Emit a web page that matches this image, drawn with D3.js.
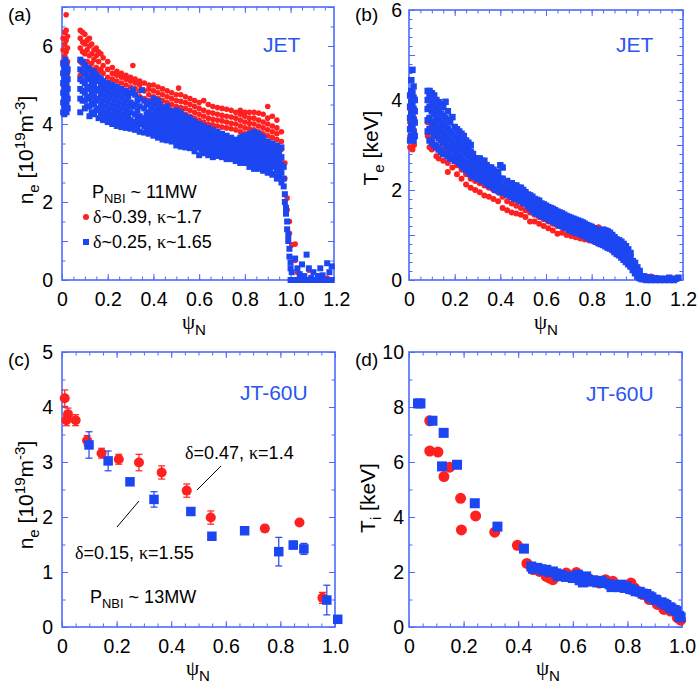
<!DOCTYPE html>
<html>
<head>
<meta charset="utf-8">
<script src="https://cdn.jsdelivr.net/npm/d3@7"></script>
<style>
  body { margin: 0; background: #fff; }
  svg { font-family: "Liberation Sans", Arial, sans-serif; }
</style>
</head>
<body>
<svg id="chart" width="698" height="688"></svg>
<script>
// ---- data ----
// (a) JET n_e: columns of [psi, [n_e values]]
const aRedCols = [
  [0.005,[5.0,5.3,5.6,5.9,6.2]],[0.012,[5.1,5.45,5.75,6.05,6.35]],[0.018,[5.2,5.5,5.85,6.15,6.4,6.8]],
  [0.024,[5.3,5.6,5.95,6.25]],[0.08,[5.25,5.6,5.95,6.2,6.4]],[0.09,[5.3,5.55,5.85,6.1,6.35]],
  [0.10,[5.25,5.5,5.8,6.05,6.3]],[0.11,[5.3,5.6,5.9,6.15]],[0.12,[5.2,5.45,5.75,6.0,6.2]],
  [0.13,[5.25,5.55,5.8,6.05]],[0.14,[5.15,5.4,5.65,5.9]],[0.15,[5.2,5.45,5.75,5.95]],
  [0.16,[5.1,5.35,5.6,5.85]],[0.17,[5.15,5.4,5.8]],[0.18,[5.05,5.3,5.5,5.7]],
  [0.20,[5.0,5.2,5.4,5.6]],[0.22,[4.95,5.15,5.3,5.45]],[0.24,[4.9,5.1,5.25,5.35]],
  [0.26,[4.85,5.05,5.2,5.3]],[0.28,[4.8,5.0,5.15,5.25]],[0.30,[4.8,4.95,5.1,5.2]],[0.31,[5.5]],
  [0.32,[4.75,4.9,5.05,5.15]],[0.34,[4.7,4.85,5.0,5.1]],[0.36,[4.65,4.85,5.05]],
  [0.38,[4.6,4.75,4.9,5.0]],[0.40,[4.55,4.7,4.85,5.0]],[0.42,[4.5,4.65,4.8,4.95]],
  [0.44,[4.45,4.6,4.75,4.9]],[0.46,[4.4,4.55,4.7,4.85]],[0.48,[4.35,4.5,4.65,4.8]],
  [0.50,[4.3,4.45,4.6,4.75]],[0.51,[4.92]],[0.52,[4.28,4.42,4.58,4.75]],[0.54,[4.25,4.4,4.55,4.7]],
  [0.56,[4.2,4.35,4.5,4.65]],[0.58,[4.15,4.3,4.45,4.6]],[0.60,[4.1,4.25,4.4,4.55]],
  [0.62,[4.05,4.2,4.35,4.6]],[0.64,[4.0,4.15,4.3,4.5]],[0.66,[3.98,4.12,4.28,4.45]],
  [0.68,[3.95,4.1,4.25,4.42]],[0.70,[3.92,4.08,4.22,4.4]],[0.72,[3.9,4.05,4.2,4.38]],
  [0.74,[3.88,4.02,4.18,4.35]],[0.76,[3.85,4.0,4.15,4.3]],[0.78,[3.8,3.95,4.1,4.25,4.35]],
  [0.80,[3.75,3.9,4.05,4.2,4.3]],[0.82,[3.7,3.88,4.02,4.15,4.3]],[0.84,[3.65,3.85,4.0,4.15,4.3]],
  [0.86,[3.6,3.8,3.95,4.1,4.28]],[0.88,[3.55,3.75,3.9,4.05,4.25]],[0.90,[3.5,3.7,3.85,4.0,4.15,4.45]],
  [0.92,[3.45,3.65,3.8,3.95,4.2]],[0.94,[3.4,3.6,3.75,3.9,4.1]],[0.96,[3.1,3.35,3.55,3.8]],
  [0.975,[2.6,3.0]],[0.985,[1.8,2.1]],[0.995,[1.2,1.5]],[1.005,[0.9]],[1.02,[0.5,0.92]],
  [1.03,[0.2]],[1.05,[0.1]],[1.08,[0.25]],[1.12,[0.1]],[1.16,[0.05]]
];
const aBlueCols = [
  [0.005,[4.3,4.55,4.8,5.05,5.3,5.55]],[0.01,[4.25,4.45,4.7,4.95,5.2,5.45]],
  [0.015,[4.35,4.6,4.85,5.1,5.35,5.65]],[0.02,[4.3,4.5,4.75,5.0,5.25,5.5]],[0.025,[4.4,4.65,4.9,5.15,5.4]],
  [0.08,[4.3,4.65,4.9,5.15,5.4,5.65]],[0.09,[4.6,4.85,5.1,5.35,5.6]],[0.10,[4.4,4.6,4.8,5.05,5.3,5.5]],
  [0.11,[4.45,4.7,4.95,5.2,5.45]],[0.12,[4.2,4.45,4.65,4.9,5.15,5.4]],[0.13,[4.3,4.55,4.8,5.05,5.3]],
  [0.14,[4.25,4.5,4.7,4.95,5.15,5.35]],[0.15,[4.35,4.6,4.85,5.1,5.25]],[0.16,[4.15,4.4,4.65,4.9,5.2]],
  [0.17,[4.25,4.5,4.75,5.0,5.15]],[0.18,[4.1,4.35,4.6,4.85,5.1]],[0.19,[4.2,4.45,4.7,4.95]],
  [0.20,[4.05,4.3,4.55,4.8,5.05]],[0.21,[4.15,4.4,4.65,4.9]],[0.22,[4.0,4.25,4.5,4.75,5.0]],
  [0.23,[4.1,4.35,4.6,4.85]],[0.24,[3.95,4.2,4.45,4.7,4.95]],[0.25,[4.05,4.3,4.55,4.8]],
  [0.26,[3.92,4.15,4.4,4.65,4.9]],[0.27,[4.0,4.25,4.5,4.75]],
  [0.28,[3.9,4.1,4.35,4.6,4.85]],[0.29,[3.98,4.2,4.45,4.7]],[0.30,[3.88,4.1,4.3,4.55,4.8]],[0.31,[4.0,4.45,4.88]],
  [0.32,[3.85,4.05,4.25,4.5,4.75]],[0.33,[3.9,4.15,4.35,4.6]],[0.34,[3.8,4.0,4.2,4.45,4.65]],[0.35,[4.1,4.87]],
  [0.36,[3.78,3.95,4.15,4.4,4.6]],[0.37,[3.85,4.05,4.25,4.5]],[0.38,[3.75,3.92,4.1,4.3,4.55]],
  [0.39,[3.82,4.0,4.2,4.4]],[0.40,[3.7,3.9,4.05,4.25,4.5,4.65]],[0.41,[3.8,3.98,4.15,4.35,4.55]],
  [0.42,[3.65,3.85,4.0,4.2,4.4,4.6]],[0.43,[3.72,3.9,4.1,4.3,4.5]],[0.44,[3.6,3.8,3.95,4.15,4.35]],
  [0.45,[3.68,3.88,4.05,4.22,4.4]],[0.46,[3.58,3.75,3.92,4.1,4.3,4.45]],[0.47,[3.65,3.82,4.0,4.18,4.35]],
  [0.48,[3.55,3.72,3.9,4.05,4.25]],[0.49,[3.6,3.78,3.95,4.12,4.3]],[0.50,[3.45,3.65,3.85,4.0,4.2,4.35]],
  [0.51,[3.55,3.72,3.9,4.08,4.25]],[0.52,[3.42,3.6,3.8,3.95,4.15,4.3]],[0.53,[3.5,3.68,3.85,4.02,4.2]],
  [0.54,[3.4,3.6,3.75,3.9,4.05,4.2]],[0.55,[3.48,3.65,3.82,3.98,4.12]],[0.56,[3.38,3.55,3.7,3.85,4.0,4.15]],
  [0.57,[3.45,3.62,3.78,3.92,4.08]],[0.58,[3.3,3.5,3.65,3.8,3.95,4.05]],[0.59,[3.4,3.55,3.72,3.88,4.0]],
  [0.60,[3.2,3.45,3.6,3.75,3.9,4.0]],[0.61,[3.35,3.52,3.68,3.8,3.95]],[0.62,[3.25,3.42,3.58,3.72,3.85,3.95]],
  [0.63,[3.32,3.48,3.62,3.78,3.88]],[0.64,[3.2,3.4,3.55,3.7,3.82,3.9]],[0.65,[3.28,3.42,3.58,3.72,3.8]],
  [0.66,[3.15,3.35,3.5,3.65,3.85]],[0.67,[3.25,3.42,3.55,3.7]],[0.68,[3.18,3.35,3.5,3.62,3.8]],
  [0.69,[3.22,3.4,3.55,3.68]],[0.70,[3.15,3.3,3.45,3.6,3.75]],[0.71,[3.2,3.35,3.5,3.65]],
  [0.72,[3.1,3.28,3.42,3.55,3.7]],[0.73,[3.18,3.32,3.48,3.6]],[0.74,[3.1,3.25,3.4,3.52,3.65]],
  [0.75,[3.15,3.3,3.45,3.58]],[0.76,[3.05,3.22,3.38,3.5,3.6]],[0.77,[3.1,3.28,3.42,3.55]],
  [0.78,[3.0,3.2,3.35,3.5,3.65]],[0.79,[3.08,3.25,3.4,3.55,3.68]],[0.80,[3.0,3.15,3.3,3.45,3.6,3.7]],
  [0.81,[3.05,3.2,3.35,3.5,3.65]],[0.82,[2.9,3.1,3.25,3.4,3.55,3.75]],[0.83,[2.95,3.15,3.3,3.45,3.6,3.72]],
  [0.84,[2.85,3.05,3.2,3.35,3.5,3.65,3.8]],[0.85,[2.92,3.1,3.25,3.4,3.55,3.7]],
  [0.86,[2.85,3.0,3.18,3.32,3.48,3.62,3.75]],[0.87,[2.9,3.08,3.22,3.38,3.52,3.68]],
  [0.88,[2.8,3.0,3.15,3.3,3.45,3.65]],[0.89,[2.85,3.05,3.2,3.35,3.5]],[0.90,[2.75,2.95,3.1,3.25,3.4,3.55]],
  [0.91,[2.8,3.0,3.15,3.3,3.45]],[0.92,[2.7,2.9,3.05,3.2,3.35,3.5]],[0.93,[2.72,2.95,3.1,3.25,3.4]],
  [0.94,[2.6,2.8,3.0,3.15,3.3,3.45]],[0.95,[2.65,2.85,3.05,3.25]],[0.96,[2.5,2.75,2.95,3.15,3.4]],[0.97,[2.4,2.6,2.9]],
  [0.975,[2.0,2.2]],[0.98,[1.7,1.85]],[0.985,[1.3,1.5]],[0.99,[1.0,1.15]],[0.995,[0.6,0.8]],
  [1.0,[0.0,0.3,0.45]],[1.005,[0.2]],[1.02,[0.0,0.55]],[1.03,[0.3]],[1.04,[0.0,0.15]],[1.05,[0.4]],
  [1.06,[0.0,0.1]],[1.07,[0.65]],[1.08,[0.0,0.3]],[1.09,[0.05]],[1.10,[0.0,0.2]],[1.12,[0.0,0.1]],
  [1.13,[0.3]],[1.14,[0.0,0.12]],[1.16,[0.0,0.43]],[1.17,[0.2]],[1.18,[0.0,0.35]]
];

// (b) JET T_e [keV]
const bRedCols = [
  [0.005,[2.95,3.2,3.5,3.8]],[0.015,[2.9,3.1,3.4,3.7,4.0]],[0.022,[3.0,3.3,3.6]],
  [0.082,[3.2,3.5,3.8]],[0.09,[2.95,3.3,3.6]],[0.10,[2.9,3.15,3.4]],[0.12,[2.75,3.0,3.3]],
  [0.13,[2.7,2.95]],[0.15,[2.65,2.9,3.1]],[0.17,[2.4,2.6,2.85]],[0.19,[2.5,2.75]],
  [0.21,[2.35,2.55,2.75]],[0.23,[2.25,2.45,2.65]],[0.25,[2.12,2.35,2.55]],[0.27,[2.05,2.25,2.45]],
  [0.29,[2.0,2.2,2.4]],[0.31,[1.95,2.15,2.35]],[0.33,[1.88,2.1,2.3]],[0.35,[1.85,2.05,2.25]],
  [0.37,[1.8,2.0]],[0.39,[1.75,1.95,2.15]],[0.41,[1.6,1.85,2.05]],[0.43,[1.55,1.75,1.95]],
  [0.45,[1.5,1.7,1.9]],[0.47,[1.48,1.65,1.85]],[0.49,[1.45,1.6,1.8]],[0.51,[1.4,1.55,1.75]],
  [0.53,[1.3,1.5,1.7]],[0.55,[1.3,1.45,1.6]],[0.57,[1.25,1.4,1.55]],[0.59,[1.2,1.35,1.5]],
  [0.61,[1.15,1.3,1.45]],[0.63,[1.1,1.25,1.4]],[0.65,[1.03,1.2,1.35]],[0.67,[1.05,1.18,1.3]],
  [0.69,[1.0,1.15,1.3]],[0.71,[0.98,1.1,1.25]],[0.73,[0.95,1.08,1.2]],[0.75,[0.92,1.05,1.2]],
  [0.77,[0.9,1.02,1.15]],[0.79,[0.88,1.0,1.12]],[0.81,[0.85,0.98,1.15]],[0.83,[0.82,0.95,1.17]],
  [0.85,[0.78,0.9,1.05]],[0.87,[0.72,0.85,1.0]],[0.89,[0.65,0.8,0.95]],[0.91,[0.58,0.72,0.88]],
  [0.93,[0.5,0.65,0.8]],[0.95,[0.42,0.55,0.7]],[0.97,[0.3,0.45]],[0.99,[0.15,0.3]],
  [1.01,[0.05,0.12]],[1.03,[0.03]],[1.06,[0.08]],[1.10,[0.02]],[1.14,[0.04]]
];
const bBlueCols = [
  [0.005,[3.1,3.35,3.6,3.85,4.1]],[0.01,[3.2,3.45,3.7,3.95,4.2,4.44]],[0.015,[3.15,3.4,3.65,3.9,4.15,4.67]],
  [0.02,[3.1,3.3,3.55,3.8,4.05,4.3]],[0.025,[3.2,3.5,3.75,4.0]],
  [0.082,[3.3,3.55,3.8,4.0,4.2]],[0.09,[3.1,3.35,3.6,3.85,4.1,4.2]],[0.10,[3.05,3.3,3.5,3.75,3.95,4.15]],
  [0.11,[3.0,3.25,3.5,3.7,3.9,4.1]],[0.12,[2.95,3.2,3.4,3.6,3.85,4.0]],[0.13,[2.9,3.15,3.35,3.55,3.75,3.95]],
  [0.14,[2.85,3.1,3.3,3.5,3.7,3.9]],[0.15,[2.8,3.05,3.25,3.45,3.65,3.85]],[0.16,[2.8,3.0,3.2,3.4,3.6,3.96]],
  [0.17,[2.75,2.95,3.15,3.35,3.55,3.75]],[0.18,[2.7,2.9,3.1,3.3,3.5]],[0.19,[2.7,2.9,3.05,3.25,3.62]],
  [0.20,[2.65,2.85,3.0,3.2,3.4]],[0.21,[2.65,2.8,3.0,3.15,3.35]],[0.22,[2.6,2.75,2.95,3.1,3.3]],
  [0.23,[2.55,2.7,2.9,3.05,3.25]],[0.24,[2.5,2.65,2.85,3.0,3.2]],[0.25,[2.45,2.6,2.8,2.95,3.1]],
  [0.26,[2.4,2.6,2.75,2.9,3.05]],[0.27,[2.35,2.55,2.7,2.85,3.0]],[0.28,[2.3,2.5,2.65,2.8]],
  [0.29,[2.3,2.45,2.6,2.7]],[0.30,[2.25,2.4,2.55,2.7]],[0.31,[2.25,2.4,2.55,2.7]],
  [0.32,[2.2,2.35,2.5,2.65]],[0.33,[2.2,2.35,2.5,2.65]],[0.34,[2.15,2.3,2.45,2.55]],
  [0.35,[2.1,2.25,2.4,2.5]],[0.36,[2.1,2.25,2.4,2.5]],[0.37,[2.05,2.2,2.35,2.45]],
  [0.38,[2.0,2.15,2.3,2.4]],[0.39,[2.0,2.15,2.3,2.4]],[0.40,[1.95,2.1,2.25,2.55]],
  [0.41,[1.95,2.1,2.25,2.5]],[0.43,[1.9,2.05,2.2]],[0.44,[1.88,2.0,2.15]],[0.45,[1.85,2.0,2.15]],
  [0.46,[1.82,1.95,2.1]],[0.47,[1.8,1.95,2.1]],[0.48,[1.78,1.92,2.05]],[0.49,[1.75,1.9,2.05]],
  [0.50,[1.72,1.85,2.0]],[0.51,[1.7,1.82,1.95]],[0.52,[1.65,1.8,1.9]],[0.53,[1.6,1.75,1.88]],
  [0.54,[1.55,1.7,1.85]],[0.55,[1.5,1.65,1.8]],[0.56,[1.48,1.62,1.78]],[0.57,[1.45,1.6,1.76]],
  [0.58,[1.42,1.55,1.7]],[0.59,[1.4,1.52,1.68]],[0.60,[1.38,1.5,1.65]],[0.61,[1.35,1.48,1.62]],
  [0.62,[1.32,1.45,1.6]],[0.63,[1.3,1.42,1.58]],[0.64,[1.28,1.4,1.55]],[0.65,[1.25,1.38,1.52]],
  [0.66,[1.22,1.35,1.5]],[0.67,[1.2,1.32,1.48]],[0.68,[1.18,1.3,1.45]],[0.69,[1.15,1.28,1.42]],
  [0.70,[1.12,1.25,1.4]],[0.71,[1.1,1.22,1.38]],[0.72,[1.08,1.2,1.36]],[0.73,[1.05,1.18,1.34]],
  [0.74,[1.05,1.15,1.32]],[0.75,[1.02,1.12,1.3]],[0.76,[1.0,1.1,1.28]],[0.77,[0.98,1.1,1.25]],
  [0.78,[0.95,1.08,1.22]],[0.79,[0.92,1.05,1.2]],[0.80,[0.9,1.02,1.18]],[0.81,[0.88,1.0,1.15]],
  [0.82,[0.85,0.98,1.12]],[0.83,[0.82,0.95,1.1]],[0.84,[0.8,0.92,1.08]],[0.85,[0.78,0.9,1.05,1.12]],
  [0.86,[0.75,0.88,1.0,1.1]],[0.87,[0.72,0.85,0.98,1.08]],[0.88,[0.7,0.82,0.95,1.05]],
  [0.89,[0.68,0.8,0.92,1.0]],[0.90,[0.62,0.75,0.88,0.95]],[0.91,[0.58,0.7,0.82,0.9]],
  [0.92,[0.55,0.65,0.78,0.88]],[0.93,[0.5,0.6,0.72,0.85]],[0.94,[0.45,0.55,0.68,0.8]],
  [0.95,[0.4,0.5,0.62,0.75]],[0.96,[0.35,0.45,0.58,0.68]],[0.97,[0.3,0.4,0.5,0.6]],
  [0.98,[0.22,0.32,0.42]],[0.99,[0.15,0.25,0.38]],[1.00,[0.08,0.18,0.28]],[1.01,[0.04,0.12,0.2]],
  [1.02,[0.02,0.08]],[1.03,[0.02,0.08]],[1.04,[0.0,0.06]],[1.05,[0.02]],[1.06,[0.0,0.05]],
  [1.07,[0.02]],[1.08,[0.0,0.04]],[1.09,[0.02]],[1.10,[0.0]],[1.11,[0.03]],[1.12,[0.0]],
  [1.13,[0.02]],[1.14,[0.0,0.05]],[1.15,[0.02]],[1.16,[0.0]],[1.17,[0.03]],[1.18,[0.05]]
];

// (c) JT-60U n_e with error bars
const cRedPsi = [0.01,0.022,0.016,0.05,0.092,0.145,0.208,0.282,0.365,0.457,0.545,0.743,0.87,0.954];
const cRedNe  = [4.16,3.87,3.76,3.76,3.39,3.16,3.05,2.99,2.81,2.48,1.99,1.79,1.9,0.53];
const cRedErr = [0.15,0.11,0.1,0.1,0.09,0.09,0.09,0.15,0.12,0.12,0.12,0.06,0.05,0.1];
const cBluePsi = [0.099,0.169,0.249,0.337,0.472,0.549,0.669,0.794,0.847,0.886,0.97,1.01];
const cBlueNe  = [3.31,3.02,2.64,2.32,2.1,1.65,1.75,1.37,1.49,1.42,0.49,0.14];
const cBlueErr = [0.24,0.18,0.05,0.14,0.05,0.04,0.05,0.26,0.07,0.1,0.27,0.0];

// (d) JT-60U T_i [keV]
const dRed = [[0.076,7.5],[0.076,6.4],[0.106,6.36],[0.128,5.47],[0.149,5.81],[0.189,4.68],[0.192,3.53],
  [0.244,4.04],[0.314,3.45],[0.397,2.97],[0.432,2.31],[0.454,2.09],[0.478,2.02],[0.503,1.84],[0.515,1.78],
  [0.527,1.72],[0.54,1.84],[0.576,1.96],[0.613,1.98],[0.637,1.78],[0.66,1.75],[0.698,1.6],[0.72,1.72],
  [0.747,1.66],[0.782,1.48],[0.813,1.6],[0.826,1.42],[0.856,1.18],[0.88,1.0],[0.91,0.82],[0.934,0.64],
  [0.958,0.58],[0.983,0.34],[0.995,0.25]];
const dBlue = [[0.033,8.13],[0.042,8.13],[0.086,7.5],[0.127,7.06],[0.121,5.84],[0.176,5.9],[0.241,4.5],
  [0.324,3.65],[0.421,2.85],[0.448,2.2],[0.454,2.12],[0.47,2.15],[0.485,2.1],[0.495,2.05],[0.503,2.08],
  [0.515,2.0],[0.527,2.02],[0.54,1.95],[0.545,1.85],[0.558,1.9],[0.575,1.82],[0.588,1.84],[0.6,1.78],
  [0.619,1.9],[0.625,1.7],[0.637,1.62],[0.649,1.84],[0.655,1.72],[0.66,1.65],[0.674,1.7],[0.69,1.62],
  [0.704,1.68],[0.715,1.6],[0.735,1.55],[0.742,1.45],[0.76,1.52],[0.77,1.45],[0.778,1.54],[0.79,1.42],
  [0.797,1.48],[0.81,1.38],[0.82,1.36],[0.83,1.3],[0.845,1.28],[0.855,1.22],[0.87,1.2],[0.88,1.12],
  [0.888,1.08],[0.9,1.0],[0.906,0.98],[0.925,0.9],[0.935,0.85],[0.943,0.8],[0.955,0.72],[0.961,0.68],
  [0.973,0.62],[0.98,0.58],[0.99,0.4],[0.995,0.35]];

const xLabelsJET = [0, 0.2, 0.4, 0.6, 0.8, 1.0, 1.2];
const xLabelsJT = [0, 0.2, 0.4, 0.6, 0.8, 1.0];

// ---- drawing ----
const RED = "#ff2020", BLUE = "#1c46f2", FRAME = "#4d6bff", TITLE = "#2a55f0";
const FONT = "'Liberation Sans', Arial, sans-serif";
const GREEK = "'Liberation Serif', 'Times New Roman', serif";
const svg = d3.select("#chart");
const flat = cols => cols.flatMap(([p, ys]) => ys.map(v => [p, v]));
const steps = (a, b, s) => d3.range(a, b + s / 2, s).map(v => +v.toFixed(4));

// text made of runs: [string, "n" | "sub" | "sup", greek?]
function rich(sel, runs, size) {
  let off = 0;
  runs.forEach(([t, kind, greek]) => {
    const target = kind === "sub" ? size * 0.28 : kind === "sup" ? -size * 0.38 : 0;
    const ts = sel.append("tspan").text(t)
      .attr("dy", target - off)
      .attr("font-size", kind === "n" ? size : size * 0.72);
    if (greek) ts.attr("font-family", GREEK);
    off = target;
  });
}

function panel(c) {
  const x = d3.scaleLinear().domain(c.xDom).range([c.l, c.r]);
  const y = d3.scaleLinear().domain(c.yDom).range([c.b, c.t]);
  const g = svg.append("g");

  g.append("rect").attr("x", c.l).attr("y", c.t)
    .attr("width", c.r - c.l).attr("height", c.b - c.t)
    .attr("fill", "none").attr("stroke", FRAME).attr("stroke-width", 1.6);

  const sides = [
    [() => d3.axisBottom(x), `translate(0,${c.b})`, "x"],
    [() => d3.axisTop(x), `translate(0,${c.t})`, "x"],
    [() => d3.axisLeft(y), `translate(${c.l},0)`, "y"],
    [() => d3.axisRight(y), `translate(${c.r},0)`, "y"]
  ];
  sides.forEach(([mk, tr, dim]) => {
    [[dim === "x" ? c.xMajor : c.yMajor, 6], [dim === "x" ? c.xMinor : c.yMinor, 3.5]].forEach(([vals, len]) => {
      const ax = g.append("g").attr("transform", tr)
        .call(mk().tickValues(vals).tickSize(-len).tickFormat(""));
      ax.select(".domain").remove();
      ax.selectAll("line").attr("stroke", FRAME).attr("stroke-width", 1);
    });
  });

  const fx = d => d === 0 ? "0" : d3.format(".1f")(d);
  const xl = g.append("g").attr("transform", `translate(0,${c.b})`)
    .call(d3.axisBottom(x).tickValues(c.xLabels).tickSize(0).tickPadding(12).tickFormat(fx));
  xl.select(".domain").remove();
  xl.attr("font-family", FONT).attr("font-size", 19.5).selectAll("text").attr("fill", "#000");

  const yl = g.append("g").attr("transform", `translate(${c.l},0)`)
    .call(d3.axisLeft(y).tickValues(c.yLabels).tickSize(0).tickPadding(c.yPad).tickFormat(d3.format("d")));
  yl.select(".domain").remove();
  yl.attr("font-family", FONT).attr("font-size", 19.5).selectAll("text").attr("fill", "#000");

  return { g, x, y };
}

function dots(p, data, r) {
  p.g.append("g").selectAll("circle").data(data).join("circle")
    .attr("cx", d => p.x(d[0])).attr("cy", d => p.y(d[1])).attr("r", r).attr("fill", RED);
}
function squares(p, data, s) {
  p.g.append("g").selectAll("rect").data(data).join("rect")
    .attr("x", d => p.x(d[0]) - s / 2).attr("y", d => p.y(d[1]) - s / 2)
    .attr("width", s).attr("height", s).attr("fill", BLUE);
}
function errBars(p, psi, val, err, color) {
  const gg = p.g.append("g").attr("stroke", color).attr("stroke-width", 1.2);
  psi.forEach((v, i) => {
    if (!err[i]) return;
    const xx = p.x(v), y0 = p.y(val[i] - err[i]), y1 = p.y(val[i] + err[i]);
    gg.append("line").attr("x1", xx).attr("x2", xx).attr("y1", y0).attr("y2", y1);
    gg.append("line").attr("x1", xx - 3.5).attr("x2", xx + 3.5).attr("y1", y0).attr("y2", y0);
    gg.append("line").attr("x1", xx - 3.5).attr("x2", xx + 3.5).attr("y1", y1).attr("y2", y1);
  });
}
function label(x, yv, runs, size, opts = {}) {
  const t = svg.append("text").attr("x", x).attr("y", yv)
    .attr("font-family", FONT).attr("fill", opts.fill || "#000")
    .attr("text-anchor", opts.anchor || "start");
  if (opts.rotate) t.attr("x", 0).attr("y", 0).attr("transform", `translate(${x},${yv}) rotate(-90)`);
  rich(t, runs, size);
  return t;
}

// panel (a)
const pa = panel({ l: 62, r: 334, t: 7, b: 280, xDom: [0, 1.19], yDom: [0, 7],
  xMajor: steps(0, 1.0, 0.2), xMinor: steps(0, 1.15, 0.05), xLabels: xLabelsJET,
  yMajor: steps(0, 7, 1), yMinor: steps(0, 7, 0.5), yLabels: [0, 2, 4, 6], yPad: 9 });
dots(pa, flat(aRedCols), 2.8);
squares(pa, flat(aBlueCols), 6);

// panel (b)
const pb = panel({ l: 409, r: 683, t: 10, b: 280, xDom: [0, 1.2], yDom: [0, 6],
  xMajor: steps(0, 1.2, 0.2), xMinor: steps(0, 1.2, 0.05), xLabels: xLabelsJET,
  yMajor: steps(0, 6, 1), yMinor: steps(0, 6, 0.2), yLabels: [0, 2, 4, 6], yPad: 7 });
dots(pb, flat(bRedCols), 3);
squares(pb, flat(bBlueCols), 6.5);

// panel (c)
const pc = panel({ l: 62, r: 335, t: 352, b: 627, xDom: [0, 1.0], yDom: [0, 5],
  xMajor: steps(0, 1, 0.2), xMinor: steps(0, 1, 0.05), xLabels: xLabelsJT,
  yMajor: steps(0, 5, 1), yMinor: steps(0, 5, 0.5), yLabels: [0, 1, 2, 3, 4, 5], yPad: 9 });
errBars(pc, cRedPsi, cRedNe, cRedErr, RED);
dots(pc, cRedPsi.map((v, i) => [v, cRedNe[i]]), 5);
errBars(pc, cBluePsi, cBlueNe, cBlueErr, BLUE);
squares(pc, cBluePsi.map((v, i) => [v, cBlueNe[i]]), 9.5);

// panel (d)
const pd = panel({ l: 409, r: 682, t: 352, b: 627, xDom: [0, 1.0], yDom: [0, 10],
  xMajor: steps(0, 1, 0.2), xMinor: steps(0, 1, 0.05), xLabels: xLabelsJT,
  yMajor: steps(0, 10, 2), yMinor: steps(0, 10, 1), yLabels: [0, 2, 4, 6, 8, 10], yPad: 5 });
dots(pd, dRed, 5.5);
squares(pd, dBlue, 10);

// panel letters
label(8, 21, [["(a)", "n"]], 19);
label(355, 21, [["(b)", "n"]], 19);
label(8, 366, [["(c)", "n"]], 19);
label(355, 366, [["(d)", "n"]], 19);

// device tags
label(263, 52, [["JET", "n"]], 21, { fill: TITLE });
label(616, 52, [["JET", "n"]], 21, { fill: TITLE });
label(240, 400, [["JT-60U", "n"]], 21, { fill: TITLE });
label(586, 401, [["JT-60U", "n"]], 21, { fill: TITLE });

// axis titles
const neRuns = [["n", "n"], ["e", "sub"], [" [10", "n"], ["19", "sup"], ["m", "n"], ["-3", "sup"], ["]", "n"]];
label(33, 150, neRuns, 21, { anchor: "middle", rotate: true });
label(33, 495, neRuns, 21, { anchor: "middle", rotate: true });
label(378, 148, [["T", "n"], ["e", "sub"], [" [keV]", "n"]], 21, { anchor: "middle", rotate: true });
label(375, 498, [["T", "n"], ["i", "sub"], [" [keV]", "n"]], 21, { anchor: "middle", rotate: true });
const psiRuns = [["ψ", "n", true], ["N", "sub"]];
label(194, 329, psiRuns, 21, { anchor: "middle" });
label(546, 329, psiRuns, 21, { anchor: "middle" });
label(198, 675, psiRuns, 21, { anchor: "middle" });
label(548, 675, psiRuns, 21, { anchor: "middle" });

// legend of (a)
label(92, 198, [["P", "n"], ["NBI", "sub"], [" ~ 11MW", "n"]], 18);
label(93, 223, [["δ", "n", true], ["~0.39, ", "n"], ["κ", "n", true], ["~1.7", "n"]], 18);
label(93, 248, [["δ", "n", true], ["~0.25, ", "n"], ["κ", "n", true], ["~1.65", "n"]], 18);
svg.append("circle").attr("cx", 86).attr("cy", 217).attr("r", 3).attr("fill", RED);
svg.append("rect").attr("x", 83).attr("y", 239).attr("width", 6).attr("height", 6).attr("fill", BLUE);

// annotations of (c)
label(185, 459, [["δ", "n", true], ["=0.47, ", "n"], ["κ", "n", true], ["=1.4", "n"]], 18);
label(75, 559, [["δ", "n", true], ["=0.15, ", "n"], ["κ", "n", true], ["=1.55", "n"]], 18);
label(90, 603, [["P", "n"], ["NBI", "sub"], [" ~ 13MW", "n"]], 18);
svg.append("line").attr("x1", 197).attr("y1", 490).attr("x2", 221).attr("y2", 466).attr("stroke", "#000").attr("stroke-width", 1);
svg.append("line").attr("x1", 117).attr("y1", 527).attr("x2", 139).attr("y2", 501).attr("stroke", "#000").attr("stroke-width", 1);
</script>
</body>
</html>
